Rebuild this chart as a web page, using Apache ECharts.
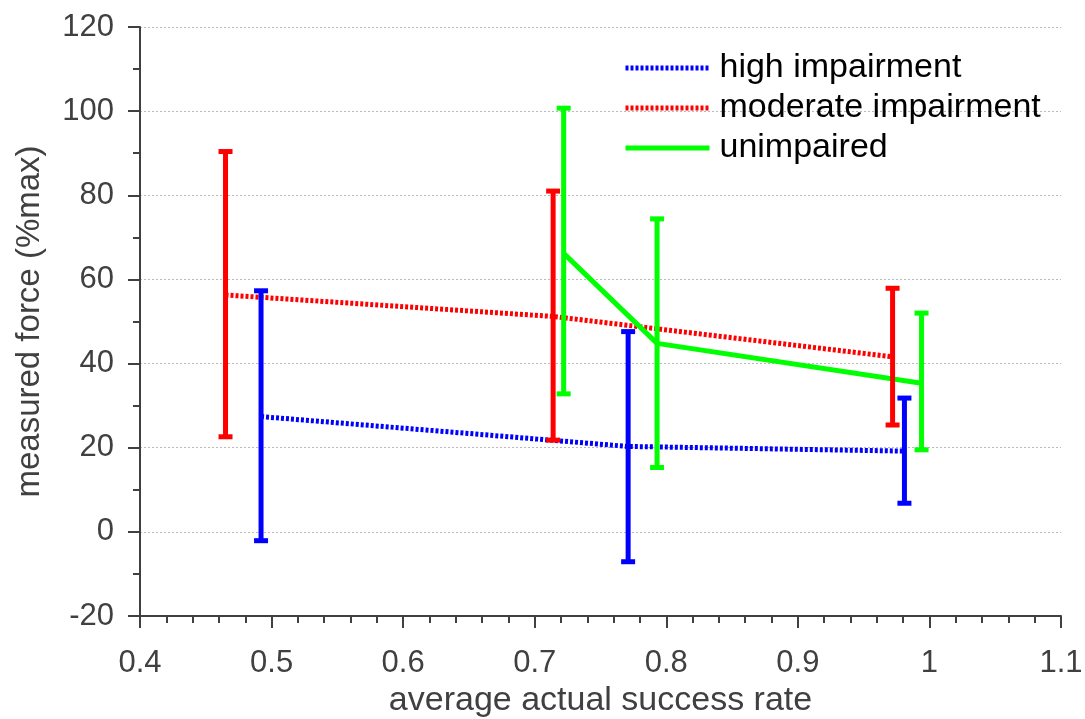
<!DOCTYPE html>
<html>
<head>
<meta charset="utf-8">
<script src="https://cdn.jsdelivr.net/npm/echarts@6/dist/echarts.min.js"></script>
<style>
  html, body { margin: 0; padding: 0; background: #fff; }
  #chart { width: 1085px; height: 719px; }
</style>
</head>
<body>
<div id="chart"></div>
<script>
// series names
var seriesNames = ['high impairment', 'moderate impairment', 'unimpaired'];

// high impairment (blue)
var highX = [0.492, 0.771, 0.981];
var highY = [27.4, 20.3, 19.2];
var highLo = [-2.1, -7.1, 6.8];
var highHi = [57.3, 47.6, 31.8];

// moderate impairment (red)
var modX = [0.465, 0.714, 0.972];
var modY = [56.3, 51.2, 41.6];
var modLo = [22.6, 21.8, 25.4];
var modHi = [90.4, 81.0, 57.9];

// unimpaired (green)
var unX = [0.722, 0.793, 0.994];
var unY = [66.2, 44.8, 35.3];
var unLo = [32.8, 15.3, 19.5];
var unHi = [100.7, 74.4, 52.0];

var textColor = '#404040';
var font = 'Liberation Sans, Arial, sans-serif';

function pairs(xs, ys) {
  return xs.map(function (x, i) { return [x, ys[i]]; });
}

function lineSeries(name, xs, ys, color, dash) {
  return {
    name: name,
    type: 'line',
    data: pairs(xs, ys),
    symbol: 'none',
    z: 3,
    lineStyle: { color: color, width: 5, type: dash },
    itemStyle: { color: color }
  };
}

// error bars drawn through the axis scales
function errorSeries(id, xs, lo, hi, color) {
  return {
    name: id,
    type: 'custom',
    z: 4,
    data: xs.map(function (x, i) { return [x, lo[i], hi[i]]; }),
    renderItem: function (params, api) {
      var top = api.coord([api.value(0), api.value(2)]);
      var bot = api.coord([api.value(0), api.value(1)]);
      var hw = 7;
      var st = { stroke: color, lineWidth: 5 };
      return {
        type: 'group',
        children: [
          { type: 'line', shape: { x1: top[0], y1: top[1], x2: bot[0], y2: bot[1] }, style: st },
          { type: 'line', shape: { x1: top[0] - hw, y1: top[1], x2: top[0] + hw, y2: top[1] }, style: st },
          { type: 'line', shape: { x1: bot[0] - hw, y1: bot[1], x2: bot[0] + hw, y2: bot[1] }, style: st }
        ]
      };
    }
  };
}

var chart = echarts.init(document.getElementById('chart'));

var option = {
  animation: false,
  textStyle: { fontFamily: font, color: textColor },
  grid: { left: 140, right: 24, top: 27, bottom: 103, outerBoundsMode: 'none', containLabel: false },
  legend: {
    data: seriesNames,
    orient: 'vertical',
    left: 618,
    top: 46,
    itemWidth: 84,
    itemHeight: 14,
    itemGap: 6,
    itemStyle: { opacity: 0 },
    lineStyle: { width: 5 },
    textStyle: { fontSize: 34, color: '#000', fontFamily: font, lineHeight: 34, padding: [0, 0, 0, 5] }
  },
  xAxis: {
    type: 'value',
    min: 0.4,
    max: 1.1,
    interval: 0.1,
    name: 'average actual success rate',
    nameLocation: 'middle',
    nameGap: 67,
    nameTextStyle: { fontSize: 34, color: textColor, fontFamily: font },
    axisLine: { show: true, onZero: false, lineStyle: { color: textColor, width: 2 } },
    axisTick: { show: true, length: 12, lineStyle: { color: textColor, width: 2 } },
    minorTick: { show: true, splitNumber: 5, length: 7, lineStyle: { color: textColor, width: 2 } },
    axisLabel: { fontSize: 31, color: textColor, margin: 32 },
    splitLine: { show: false }
  },
  yAxis: {
    type: 'value',
    min: -20,
    max: 120,
    interval: 20,
    name: 'measured force (%max)',
    nameLocation: 'middle',
    nameGap: 94,
    nameTextStyle: { fontSize: 33, color: textColor, fontFamily: font },
    axisLine: { show: true, onZero: false, lineStyle: { color: textColor, width: 2 } },
    axisTick: { show: true, length: 12, lineStyle: { color: textColor, width: 2 } },
    minorTick: { show: true, splitNumber: 2, length: 7, lineStyle: { color: textColor, width: 2 } },
    axisLabel: { fontSize: 31, color: textColor, margin: 26 },
    splitLine: { show: true, lineStyle: { color: '#b8b8b8', width: 1, type: [2, 2] } }
  },
  series: [
    lineSeries(seriesNames[0], highX, highY, '#0000ff', [3, 2]),
    lineSeries(seriesNames[1], modX, modY, '#ff0000', [3, 2]),
    lineSeries(seriesNames[2], unX, unY, '#00ff00', 'solid'),
    errorSeries('err-high', highX, highLo, highHi, '#0000ff'),
    errorSeries('err-mod', modX, modLo, modHi, '#ff0000'),
    errorSeries('err-un', unX, unLo, unHi, '#00ff00')
  ]
};

chart.setOption(option);
</script>
</body>
</html>
